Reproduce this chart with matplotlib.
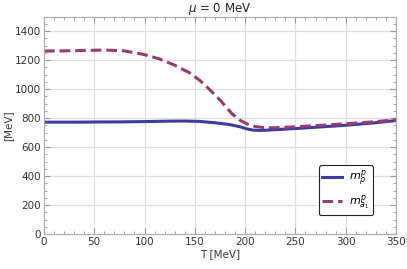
import numpy as np
import matplotlib
matplotlib.use("Agg")
import matplotlib.pyplot as plt
from matplotlib.ticker import MultipleLocator

# values
T_rho = [0, 25, 50, 75, 100, 125, 140, 155, 170, 185, 195, 202, 208, 215, 222, 235, 250, 275, 300, 325, 350]
m_rho = [772, 772, 773, 774, 776, 779, 780, 777, 768, 755, 740, 725, 717, 715, 717, 722, 728, 739, 751, 765, 783]

T_a1 = [0, 20, 40, 60, 80, 100, 115, 130, 145, 155, 165, 175, 187, 195, 203, 210, 218, 228, 250, 275, 300, 325, 350]
m_a1 = [1263, 1264, 1267, 1270, 1264, 1238, 1208, 1165, 1112, 1060, 995, 925, 830, 785, 757, 742, 735, 733, 740, 750, 761, 773, 788]

blue = "#3b3ba0"
purple = "#9a3a72"

fig, ax = plt.subplots(figsize=(4.07, 2.69), dpi=100)
fig.subplots_adjust(left=0.108, right=0.973, bottom=0.13, top=0.938)

ax.plot(T_rho, m_rho, color=blue, lw=2.2, label=r"$m^{p}_{\rho}$")
ax.plot(T_a1, m_a1, color=purple, lw=2.2, dashes=(3.5, 1.6), label=r"$m^{p}_{a_1}$")

ax.set_xlim(0, 350)
ax.set_ylim(0, 1500)
ax.xaxis.set_major_locator(MultipleLocator(50))
ax.xaxis.set_minor_locator(MultipleLocator(10))
ax.yaxis.set_major_locator(MultipleLocator(200))
ax.yaxis.set_minor_locator(MultipleLocator(50))
ax.grid(True, which="major", color="#dddddd", lw=0.9)
ax.set_axisbelow(True)
ax.tick_params(which="both", direction="in", top=True, right=True, colors="#999999",
               labelcolor="#333333", labelsize=7.5, pad=2)
ax.tick_params(which="major", length=4)
ax.tick_params(which="minor", length=2)
for s in ax.spines.values():
    s.set_color("#aaaaaa")

ax.set_title(r"$\mu$ = 0 MeV", fontsize=8.5, color="#222222", pad=3)
ax.set_xlabel("T [MeV]", fontsize=7.5, color="#333333", labelpad=2)
ax.set_ylabel("[MeV]", fontsize=7.5, color="#333333", labelpad=1)

leg = ax.legend(loc="lower right", bbox_to_anchor=(0.95, 0.062), fontsize=8, handlelength=1.8,
                handletextpad=0.6, fancybox=True, framealpha=1, edgecolor="#222222",
                borderpad=0.3, labelspacing=0.45)
leg.get_frame().set_linewidth(0.8)

fig.savefig("out.png", dpi=100)
